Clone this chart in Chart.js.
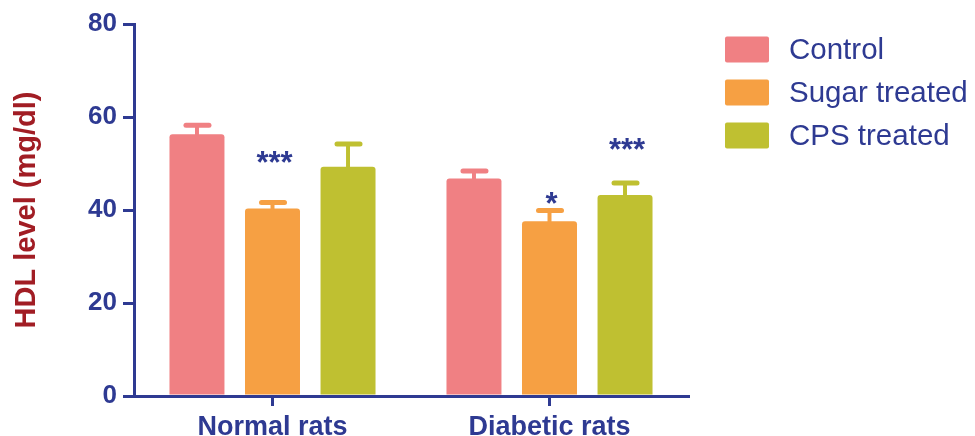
<!DOCTYPE html>
<html>
<head>
<meta charset="utf-8">
<script src="https://cdn.jsdelivr.net/npm/chart.js@4/dist/chart.umd.min.js"></script>
<style>
  html, body { margin: 0; padding: 0; background: #ffffff; }
  #wrap { width: 975px; height: 436px; position: relative; }
</style>
</head>
<body>
<div id="wrap"><canvas id="c" width="975" height="436"></canvas></div>
<script>
// HDL level (mg/dl), mean and SEM per group
const categories = ['Normal rats', 'Diabetic rats'];
const seriesNames = ['Control', 'Sugar treated', 'CPS treated'];
const controlMean = [56.3, 46.8];
const sugarMean = [40.3, 37.6];
const cpsMean = [49.3, 43.2];
const controlErr = [1.9, 1.6];
const sugarErr = [1.3, 2.3];
const cpsErr = [4.9, 2.6];
// significance marks and the level (mg/dl) they are written at
const controlStars = ['', ''];
const sugarStars = ['***', '*'];
const cpsStars = ['', '***'];
const controlStarAt = [null, null];
const sugarStarAt = [51.4, 42.5];
const cpsStarAt = [null, 54.3];
const yTicks = [0, 20, 40, 60, 80];

const BLUE = '#2e3a92';
const RED = '#a11d24';
const colors = ['#f08083', '#f6a043', '#bfc031'];
const FONT = "'Liberation Sans', Arial, sans-serif";

const means = [controlMean, sugarMean, cpsMean];
const errs = [controlErr, sugarErr, cpsErr];
const stars = [controlStars, sugarStars, cpsStars];
const starAt = [controlStarAt, sugarStarAt, cpsStarAt];

const datasets = seriesNames.map((name, i) => ({
  label: name,
  data: means[i],
  errors: errs[i],
  stars: stars[i],
  starAt: starAt[i],
  backgroundColor: colors[i],
  borderWidth: 0,
  borderRadius: { topLeft: 3, topRight: 3, bottomLeft: 0, bottomRight: 0 },
  borderSkipped: 'bottom',
  categoryPercentage: 0.818,
  barPercentage: 0.728
}));

// upward error bars with a rounded cap
const errorBars = {
  id: 'errorBars',
  afterDatasetsDraw(chart) {
    const ctx = chart.ctx;
    const y = chart.scales.y;
    chart.data.datasets.forEach((ds, di) => {
      const meta = chart.getDatasetMeta(di);
      meta.data.forEach((bar, i) => {
        const top = y.getPixelForValue(ds.data[i] + ds.errors[i]);
        ctx.save();
        ctx.strokeStyle = ds.backgroundColor;
        ctx.lineWidth = 4;
        ctx.beginPath();
        ctx.moveTo(bar.x, bar.y + 1);
        ctx.lineTo(bar.x, top);
        ctx.stroke();
        ctx.lineWidth = 5;
        ctx.lineCap = 'round';
        ctx.beginPath();
        ctx.moveTo(bar.x - 11, top);
        ctx.lineTo(bar.x + 12, top);
        ctx.stroke();
        ctx.restore();
      });
    });
  }
};

// asterisks, axis title and legend
const decorations = {
  id: 'decorations',
  afterDraw(chart) {
    const ctx = chart.ctx;
    const y = chart.scales.y;
    ctx.save();
    // significance marks
    ctx.fillStyle = BLUE;
    ctx.font = `bold 31px ${FONT}`;
    ctx.textAlign = 'center';
    ctx.textBaseline = 'alphabetic';
    chart.data.datasets.forEach((ds, di) => {
      const meta = chart.getDatasetMeta(di);
      meta.data.forEach((bar, i) => {
        const s = ds.stars[i];
        if (!s) return;
        const m = ctx.measureText(s);
        const cy = y.getPixelForValue(ds.starAt[i]);
        const base = cy + (m.actualBoundingBoxAscent - m.actualBoundingBoxDescent) / 2;
        ctx.fillText(s, bar.x + 2, base);
      });
    });
    // y axis title
    ctx.save();
    ctx.translate(27, 210);
    ctx.rotate(-Math.PI / 2);
    ctx.fillStyle = RED;
    ctx.font = `bold 29px ${FONT}`;
    ctx.textAlign = 'center';
    ctx.textBaseline = 'middle';
    ctx.fillText('HDL level (mg/dl)', 0, 0);
    ctx.restore();
    // legend
    ctx.font = `29.5px ${FONT}`;
    ctx.textAlign = 'left';
    ctx.textBaseline = 'middle';
    chart.data.datasets.forEach((ds, i) => {
      const cy = 49.5 + i * 43;
      ctx.fillStyle = ds.backgroundColor;
      ctx.beginPath();
      ctx.roundRect(725, cy - 13, 44, 26, 2);
      ctx.fill();
      ctx.fillStyle = BLUE;
      ctx.fillText(ds.label, 789, cy + 1);
    });
    ctx.restore();
  }
};

new Chart(document.getElementById('c'), {
  type: 'bar',
  data: { labels: categories, datasets },
  options: {
    responsive: false,
    animation: false,
    devicePixelRatio: 1,
    layout: { padding: { left: 0, right: 287, top: 24, bottom: 0 } },
    plugins: { legend: { display: false }, tooltip: { enabled: false } },
    scales: {
      x: {
        offset: true,
        border: { display: true, color: BLUE, width: 3 },
        grid: { offset: false, drawOnChartArea: false, drawTicks: true, tickLength: 10, color: BLUE, lineWidth: 3 },
        ticks: { color: BLUE, font: { family: FONT, size: 27, weight: 'bold' }, padding: 5 },
        afterFit(scale) { scale.height = 40; }
      },
      y: {
        min: 0,
        max: 80,
        afterBuildTicks(scale) { scale.ticks = yTicks.map(v => ({ value: v })); },
        border: { display: true, color: BLUE, width: 3 },
        grid: { drawOnChartArea: false, drawTicks: true, tickLength: 11, color: BLUE, lineWidth: 3 },
        ticks: { color: BLUE, font: { family: FONT, size: 26, weight: 'bold' }, padding: 6 },
        afterFit(scale) { scale.width = 134; }
      }
    }
  },
  plugins: [errorBars, decorations]
});
</script>
</body>
</html>
